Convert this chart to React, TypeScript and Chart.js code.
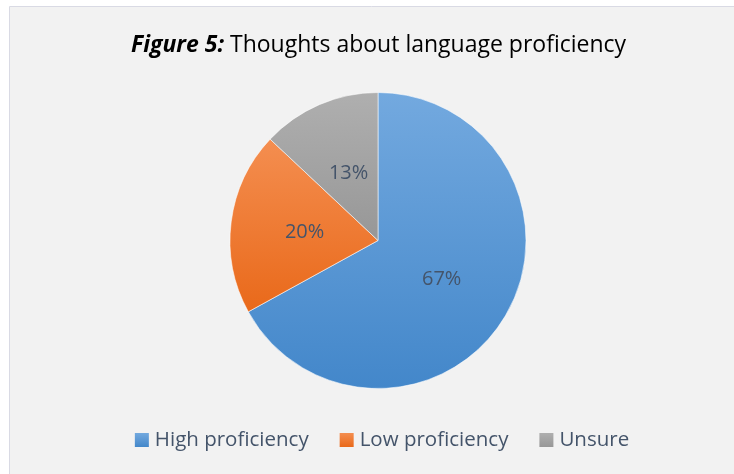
import React, { useEffect, useRef } from "react";
import { Chart, registerables } from "chart.js";

Chart.register(...registerables);

const labels = ["High proficiency", "Low proficiency", "Unsure"];
const values = [67, 20, 13];
const titleBold = "Figure 5:";
const titleRest = " Thoughts about language proficiency";

const gradStops: [string, string][] = [
  ["#73a9df", "#4387ca"],
  ["#f48e50", "#e9691a"],
  ["#afafaf", "#979797"],
];
const solidColors = ["#5b9bd5", "#ed7d31", "#a5a5a5"];
const TEXT = "#44546a";
const FONT = "'Open Sans', 'Noto Sans', sans-serif";
const R = 148;

function sliceYRange(i: number, cy: number) {
  const total = values.reduce((a, b) => a + b, 0);
  let start = 0;
  for (let k = 0; k < i; k++) start += values[k];
  const a0 = -Math.PI / 2 + (start / total) * Math.PI * 2;
  const a1 = a0 + (values[i] / total) * Math.PI * 2;
  const ys = [cy, cy + R * Math.sin(a0), cy + R * Math.sin(a1)];
  const crosses = (a: number) => {
    for (let t = a - Math.PI * 4; t <= a1; t += Math.PI * 2) {
      if (t >= a0 && t <= a1) return true;
    }
    return false;
  };
  if (crosses(Math.PI / 2)) ys.push(cy + R);
  if (crosses(-Math.PI / 2)) ys.push(cy - R);
  return [Math.min(...ys), Math.max(...ys)];
}

const framePlugin = {
  id: "frame",
  beforeDraw(chart: any) {
    const { ctx, width, height } = chart;
    ctx.save();
    ctx.fillStyle = "#ffffff";
    ctx.fillRect(0, 0, width, height);
    ctx.fillStyle = "#f2f2f2";
    ctx.fillRect(10, 7, width - 10, height - 7);
    ctx.strokeStyle = "#d9dae4";
    ctx.lineWidth = 1;
    ctx.beginPath();
    ctx.moveTo(9.5, height);
    ctx.lineTo(9.5, 6.5);
    ctx.lineTo(width, 6.5);
    ctx.stroke();
    ctx.restore();
  },
  afterDraw(chart: any) {
    const { ctx } = chart;
    ctx.save();
    // title
    const boldFont = `italic bold 23px ${FONT}`;
    const normFont = `23px ${FONT}`;
    ctx.font = boldFont;
    const wb = ctx.measureText(titleBold).width;
    ctx.font = normFont;
    const wr = ctx.measureText(titleRest).width;
    const tx = 378.5 - (wb + wr) / 2;
    ctx.textBaseline = "middle";
    ctx.fillStyle = "#000000";
    ctx.font = boldFont;
    ctx.fillText(titleBold, tx, 45);
    ctx.font = normFont;
    ctx.fillText(titleRest, tx + wb, 45);

    // data labels
    const meta = chart.getDatasetMeta(0);
    ctx.font = `20px ${FONT}`;
    ctx.fillStyle = TEXT;
    ctx.textAlign = "center";
    meta.data.forEach((arc: any, i: number) => {
      const p = arc.getCenterPoint();
      ctx.fillText(values[i] + "%", p.x, p.y + 1);
    });

    // legend
    ctx.textAlign = "left";
    ctx.font = `20.5px ${FONT}`;
    const box = 14, gapText = 6, gapItem = 31;
    const widths = labels.map((l) => ctx.measureText(l).width);
    const total = widths.reduce((a, w) => a + box + gapText + w, 0) + gapItem * (labels.length - 1);
    let x = 382 - total / 2;
    const ly = 440;
    labels.forEach((l, i) => {
      const g = ctx.createLinearGradient(0, ly - 7, 0, ly + 7);
      g.addColorStop(0, gradStops[i][0]);
      g.addColorStop(1, gradStops[i][1]);
      ctx.fillStyle = g;
      ctx.fillRect(x, ly - 7, box, box);
      ctx.fillStyle = TEXT;
      ctx.fillText(l, x + box + gapText, ly);
      x += box + gapText + widths[i] + gapItem;
    });
    ctx.restore();
  },
};

export default function App() {
  const ref = useRef<HTMLCanvasElement>(null);
  useEffect(() => {
    const canvas = ref.current!;
    const chart = new Chart(canvas, {
      type: "pie",
      data: {
        labels,
        datasets: [
          {
            data: values,
            radius: R,
            borderWidth: 1,
            borderColor: "rgba(255,255,255,0.55)",
            hoverOffset: 0,
            backgroundColor: (c: any) => {
              const ch = c.chart;
              const i = c.dataIndex;
              const area = ch.chartArea;
              if (!area || i === undefined) return solidColors[i ?? 0];
              const cy = (area.top + area.bottom) / 2;
              const [y0, y1] = sliceYRange(i, cy);
              const g = ch.ctx.createLinearGradient(0, y0, 0, y1);
              g.addColorStop(0, gradStops[i][0]);
              g.addColorStop(1, gradStops[i][1]);
              return g;
            },
          } as any,
        ],
      },
      options: {
        animation: false,
        responsive: false,
        layout: { padding: { top: 92.5, bottom: 85.5, left: 40, right: 18 } },
        plugins: {
          legend: { display: false },
          title: { display: false },
          tooltip: { enabled: false },
        },
      },
      plugins: [framePlugin],
    });
    return () => chart.destroy();
  }, []);
  return (
    <div style={{ position: "fixed", left: 0, top: 0, width: 734, height: 474 }}>
      <canvas ref={ref} width={734} height={474} style={{ display: "block" }} />
    </div>
  );
}
